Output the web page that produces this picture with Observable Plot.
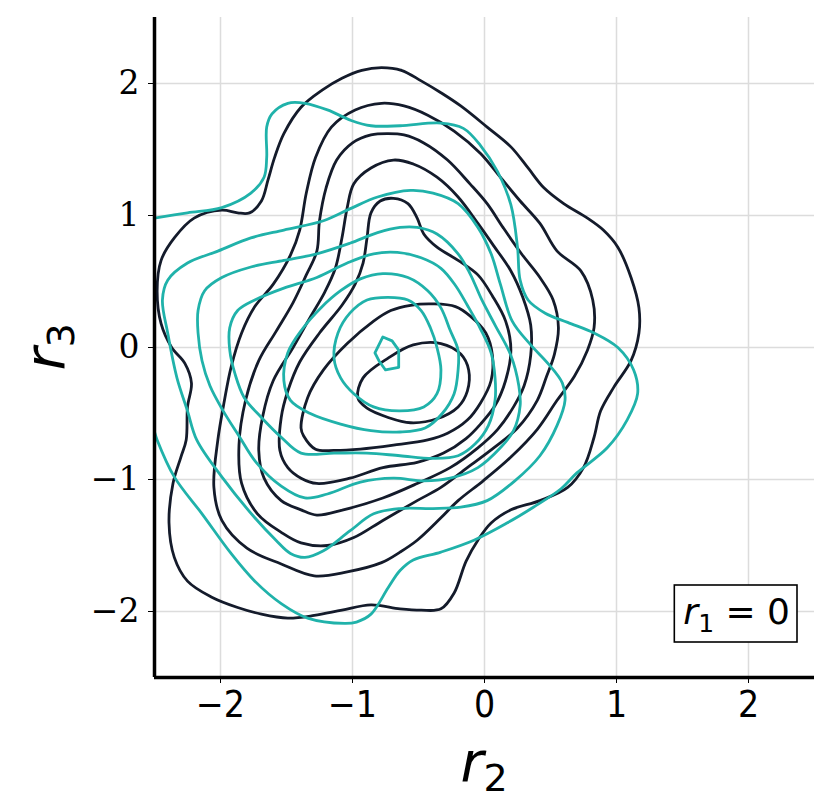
<!DOCTYPE html>
<html>
<head>
<meta charset="utf-8">
<script src="https://cdn.jsdelivr.net/npm/d3@7"></script>
<script src="https://cdn.jsdelivr.net/npm/@observablehq/plot@0.6"></script>
<style>
  body { margin: 0; background: #fff; }
  text { white-space: pre; }
  g[aria-label="x-axis tick label"] text { font-family: "Liberation Sans Narrow", "DejaVu Sans Condensed", "Liberation Sans", sans-serif !important; }
  g[aria-label="y-axis tick label"] text { font-family: "DejaVu Serif", "Liberation Serif", serif !important; }
</style>
</head>
<body>
<div id="chart"></div>
<script>
// ---- tick values ----
const xTicks = [-2, -1, 0, 1, 2];
const yTicks = [-2, -1, 0, 1, 2];
const domainLimits = [-2.5, 2.5];

// ---- dark contours (outer -> inner), [r2, r3] ----
const dark1 = [[-0.78,2.12],[-0.63,2.10],[-0.48,2.02],[-0.33,1.93],[-0.18,1.83],[0.02,1.67],[0.20,1.52],[0.33,1.36],[0.45,1.21],[0.60,1.09],[0.78,0.98],[0.90,0.89],[1.01,0.76],[1.11,0.53],[1.17,0.30],[1.17,0.11],[1.11,-0.10],[0.98,-0.30],[0.88,-0.48],[0.83,-0.68],[0.75,-0.91],[0.63,-1.06],[0.42,-1.16],[0.20,-1.23],[0.05,-1.33],[-0.05,-1.46],[-0.14,-1.62],[-0.23,-1.86],[-0.33,-1.98],[-0.48,-1.99],[-0.64,-1.98],[-0.86,-1.95],[-1.08,-1.99],[-1.29,-2.03],[-1.49,-2.05],[-1.69,-2.02],[-1.87,-1.97],[-2.07,-1.89],[-2.25,-1.77],[-2.35,-1.59],[-2.39,-1.33],[-2.36,-1.03],[-2.30,-0.83],[-2.26,-0.70],[-2.25,-0.45],[-2.22,-0.27],[-2.27,-0.12],[-2.37,0.00],[-2.45,0.18],[-2.48,0.43],[-2.45,0.66],[-2.35,0.83],[-2.20,0.98],[-1.99,1.04],[-1.87,1.02],[-1.78,1.02],[-1.69,1.11],[-1.64,1.27],[-1.59,1.44],[-1.52,1.62],[-1.39,1.82],[-1.23,1.95],[-1.08,2.04],[-0.93,2.10]];
const dark2 = [[-1.47,0.70],[-1.40,0.89],[-1.35,1.17],[-1.28,1.44],[-1.16,1.67],[-0.98,1.80],[-0.78,1.85],[-0.61,1.83],[-0.43,1.76],[-0.23,1.64],[-0.03,1.47],[0.12,1.29],[0.27,1.11],[0.42,0.94],[0.55,0.73],[0.73,0.58],[0.82,0.36],[0.83,0.15],[0.78,-0.02],[0.68,-0.22],[0.55,-0.40],[0.40,-0.62],[0.20,-0.83],[-0.01,-1.01],[-0.20,-1.16],[-0.33,-1.29],[-0.51,-1.46],[-0.64,-1.55],[-0.78,-1.63],[-1.04,-1.70],[-1.29,-1.73],[-1.54,-1.64],[-1.80,-1.52],[-1.99,-1.31],[-2.05,-1.06],[-2.02,-0.70],[-1.97,-0.40],[-1.92,-0.15],[-1.84,0.11],[-1.74,0.31],[-1.60,0.48]];
const dark3 = [[-1.27,0.73],[-1.25,0.96],[-1.20,1.21],[-1.12,1.42],[-1.00,1.55],[-0.86,1.61],[-0.73,1.62],[-0.61,1.61],[-0.46,1.55],[-0.28,1.42],[-0.11,1.24],[0.02,1.09],[0.14,0.91],[0.28,0.71],[0.42,0.53],[0.52,0.36],[0.56,0.15],[0.53,-0.05],[0.47,-0.22],[0.40,-0.40],[0.25,-0.61],[0.07,-0.76],[-0.13,-0.91],[-0.33,-1.06],[-0.51,-1.16],[-0.77,-1.31],[-0.99,-1.44],[-1.19,-1.50],[-1.39,-1.48],[-1.54,-1.40],[-1.72,-1.26],[-1.84,-1.03],[-1.86,-0.74],[-1.81,-0.40],[-1.71,-0.10],[-1.58,0.12],[-1.45,0.34],[-1.35,0.55]];
const dark4 = [[-0.69,1.42],[-0.54,1.39],[-0.36,1.29],[-0.20,1.14],[-0.05,0.94],[0.07,0.77],[0.20,0.58],[0.29,0.38],[0.35,0.17],[0.35,-0.06],[0.30,-0.29],[0.22,-0.45],[0.10,-0.62],[-0.05,-0.76],[-0.26,-0.91],[-0.51,-1.03],[-0.77,-1.14],[-1.07,-1.23],[-1.27,-1.27],[-1.39,-1.23],[-1.54,-1.16],[-1.67,-0.99],[-1.71,-0.78],[-1.68,-0.52],[-1.60,-0.25],[-1.45,0.00],[-1.32,0.23],[-1.21,0.42],[-1.13,0.60],[-1.08,0.83],[-1.04,1.06],[-0.99,1.24],[-0.86,1.36]];
const dark5 = [[-0.69,1.13],[-0.58,1.09],[-0.51,0.98],[-0.46,0.86],[-0.36,0.76],[-0.20,0.66],[-0.05,0.55],[0.06,0.39],[0.16,0.20],[0.20,-0.02],[0.16,-0.25],[0.08,-0.44],[-0.03,-0.58],[-0.14,-0.69],[-0.31,-0.80],[-0.51,-0.87],[-0.77,-0.91],[-1.02,-0.99],[-1.27,-1.03],[-1.39,-0.99],[-1.49,-0.91],[-1.55,-0.78],[-1.54,-0.53],[-1.49,-0.33],[-1.40,-0.11],[-1.25,0.11],[-1.08,0.32],[-0.98,0.48],[-0.92,0.64],[-0.89,0.83],[-0.86,1.02],[-0.79,1.11]];
const dark6 = [[-1.39,-0.61],[-1.34,-0.38],[-1.22,-0.17],[-1.04,0.03],[-0.84,0.20],[-0.71,0.28],[-0.56,0.32],[-0.39,0.33],[-0.22,0.31],[-0.11,0.24],[0.01,0.11],[0.06,-0.06],[0.05,-0.25],[-0.03,-0.42],[-0.13,-0.55],[-0.28,-0.65],[-0.43,-0.70],[-0.69,-0.74],[-0.94,-0.77],[-1.14,-0.78],[-1.28,-0.77],[-1.37,-0.67]];
const dark7 = [[-0.96,-0.38],[-0.92,-0.23],[-0.73,-0.08],[-0.54,0.02],[-0.33,0.03],[-0.18,-0.05],[-0.12,-0.17],[-0.13,-0.33],[-0.20,-0.45],[-0.36,-0.54],[-0.56,-0.57],[-0.73,-0.53],[-0.89,-0.46]];

// ---- teal contours (outer -> inner), [r2, r3] ----
const teal1 = [[-2.50,0.98],[-2.25,1.02],[-1.99,1.06],[-1.77,1.17],[-1.67,1.29],[-1.65,1.44],[-1.65,1.67],[-1.61,1.77],[-1.49,1.85],[-1.36,1.85],[-1.19,1.80],[-1.01,1.72],[-0.86,1.68],[-0.64,1.68],[-0.33,1.70],[-0.16,1.66],[-0.03,1.53],[0.10,1.33],[0.20,1.08],[0.25,0.76],[0.27,0.51],[0.33,0.36],[0.46,0.26],[0.63,0.19],[0.83,0.11],[1.01,0.00],[1.13,-0.17],[1.16,-0.35],[1.08,-0.55],[0.93,-0.76],[0.70,-0.95],[0.58,-1.07],[0.37,-1.21],[0.17,-1.33],[-0.08,-1.46],[-0.33,-1.55],[-0.54,-1.61],[-0.64,-1.69],[-0.73,-1.82],[-0.86,-2.02],[-0.97,-2.08],[-1.06,-2.09],[-1.34,-2.05],[-1.54,-1.94],[-1.74,-1.77],[-1.92,-1.56],[-2.14,-1.26],[-2.35,-0.98],[-2.48,-0.70],[-2.50,-0.64]];
const teal2 = [[-2.02,0.73],[-1.77,0.83],[-1.52,0.89],[-1.22,0.96],[-1.02,1.05],[-0.81,1.14],[-0.56,1.19],[-0.39,1.17],[-0.20,1.09],[-0.05,0.91],[0.05,0.71],[0.12,0.48],[0.21,0.20],[0.35,0.02],[0.48,-0.12],[0.59,-0.27],[0.61,-0.40],[0.55,-0.59],[0.42,-0.82],[0.23,-1.01],[0.02,-1.16],[-0.18,-1.21],[-0.39,-1.22],[-0.64,-1.22],[-0.84,-1.26],[-1.02,-1.39],[-1.22,-1.54],[-1.36,-1.59],[-1.47,-1.56],[-1.58,-1.46],[-1.74,-1.29],[-1.99,-0.98],[-2.18,-0.70],[-2.25,-0.48],[-2.33,-0.23],[-2.40,0.11],[-2.44,0.36],[-2.40,0.51],[-2.25,0.64]];
const teal3 = [[-1.77,0.61],[-1.52,0.66],[-1.27,0.71],[-1.02,0.79],[-0.81,0.87],[-0.64,0.91],[-0.51,0.91],[-0.36,0.86],[-0.20,0.71],[-0.11,0.56],[-0.02,0.36],[0.08,0.17],[0.20,-0.06],[0.26,-0.29],[0.27,-0.44],[0.22,-0.63],[0.12,-0.76],[-0.05,-0.91],[-0.26,-0.99],[-0.46,-1.01],[-0.69,-0.99],[-0.94,-1.02],[-1.19,-1.11],[-1.36,-1.14],[-1.54,-1.05],[-1.73,-0.87],[-1.86,-0.67],[-1.98,-0.48],[-2.08,-0.29],[-2.14,-0.10],[-2.17,0.11],[-2.17,0.28],[-2.12,0.43],[-1.99,0.53]];
const teal4 = [[-1.74,0.36],[-1.52,0.45],[-1.27,0.53],[-1.04,0.64],[-0.84,0.71],[-0.66,0.72],[-0.48,0.68],[-0.33,0.60],[-0.22,0.47],[-0.13,0.32],[-0.03,0.14],[0.05,-0.04],[0.08,-0.23],[0.08,-0.40],[0.03,-0.59],[-0.07,-0.73],[-0.20,-0.82],[-0.39,-0.84],[-0.64,-0.82],[-0.89,-0.80],[-1.14,-0.80],[-1.39,-0.80],[-1.54,-0.68],[-1.69,-0.53],[-1.82,-0.38],[-1.89,-0.20],[-1.93,-0.02],[-1.93,0.15],[-1.87,0.28]];
const teal5 = [[-0.77,0.56],[-0.58,0.53],[-0.43,0.43],[-0.33,0.30],[-0.26,0.13],[-0.20,-0.02],[-0.20,-0.17],[-0.23,-0.35],[-0.32,-0.50],[-0.45,-0.61],[-0.64,-0.64],[-0.86,-0.63],[-1.09,-0.58],[-1.32,-0.50],[-1.47,-0.40],[-1.52,-0.25],[-1.49,-0.04],[-1.38,0.14],[-1.24,0.30],[-1.09,0.43],[-0.94,0.52]];
const teal6 = [[-1.14,-0.08],[-1.11,0.11],[-1.02,0.26],[-0.89,0.36],[-0.73,0.38],[-0.58,0.36],[-0.48,0.28],[-0.41,0.15],[-0.36,0.00],[-0.33,-0.17],[-0.36,-0.35],[-0.46,-0.45],[-0.64,-0.48],[-0.84,-0.45],[-0.99,-0.35],[-1.09,-0.23]];
const teal7 = [[-0.83,-0.04],[-0.77,0.08],[-0.70,0.05],[-0.65,-0.02],[-0.65,-0.15],[-0.75,-0.17],[-0.80,-0.10]];

const DARK = "#141b2b";
const TEAL = "#20b2aa";
const LW = 2.8;

// table builders for the line marks
const toRows = (list, tag) => list.flatMap((c, i) => c.map(([x, y]) => ({x, y, id: tag + i})));
const darkRows = toRows([dark1, dark2, dark3, dark4, dark5, dark6, dark7], "d");
const tealRows = toRows([teal2, teal3, teal4, teal5, teal6], "t");
const tealOpen = toRows([teal1], "o");
const tealInner = toRows([teal7], "i");

const fmt = d => d < 0 ? "\u2212" + Math.abs(d) : String(d);

const chart = Plot.plot({
  width: 831,
  height: 812,
  marginLeft: 154,
  marginRight: 17,
  marginTop: 17,
  marginBottom: 135,
  x: {domain: domainLimits},
  y: {domain: domainLimits},
  style: {background: "#fff", overflow: "visible"},
  marks: [
    Plot.gridX(xTicks, {stroke: "#dcdcdc", strokeOpacity: 1, strokeWidth: 1.5}),
    Plot.gridY(yTicks, {stroke: "#dcdcdc", strokeOpacity: 1, strokeWidth: 1.5}),
    Plot.line(darkRows, {x: "x", y: "y", z: "id", stroke: DARK, strokeWidth: LW, curve: "catmull-rom-closed", clip: true}),
    Plot.line(tealRows, {x: "x", y: "y", z: "id", stroke: TEAL, strokeWidth: LW, curve: "catmull-rom-closed", clip: true}),
    Plot.line(tealOpen, {x: "x", y: "y", z: "id", stroke: TEAL, strokeWidth: LW, curve: "catmull-rom", clip: true}),
    Plot.line(tealInner, {x: "x", y: "y", z: "id", stroke: TEAL, strokeWidth: LW, curve: "linear-closed", clip: true}),
    Plot.axisX(xTicks, {tickSize: 6, tickPadding: 7, fontSize: 37, tickFormat: fmt, label: null}),
    Plot.axisY(yTicks, {tickSize: 6, tickPadding: 9, fontSize: 33, tickFormat: fmt, label: null}),
    Plot.ruleX([domainLimits[0]], {stroke: "#000", strokeWidth: 3.5}),
    Plot.ruleY([domainLimits[0]], {stroke: "#000", strokeWidth: 3.5})
  ]
});

document.getElementById("chart").append(chart);

const sx = chart.scale("x"), sy = chart.scale("y");
const svg = d3.select(chart);

// force tick label fonts
svg.selectAll('g[aria-label="x-axis tick label"]')
  .attr("font-family", "Liberation Sans Narrow, DejaVu Sans Condensed, Liberation Sans, sans-serif");
svg.selectAll('g[aria-label="y-axis tick label"]')
  .attr("font-family", "DejaVu Serif, Liberation Serif, serif");

// x axis label r_2
const xl = svg.append("text")
  .attr("x", sx.apply(0))
  .attr("y", sy.apply(domainLimits[0]) + 104)
  .attr("text-anchor", "middle")
  .attr("font-family", "DejaVu Sans, sans-serif")
  .attr("fill", "#000");
xl.append("tspan").attr("font-style", "italic").attr("font-size", 56).text("r");
xl.append("tspan").attr("font-size", 38).attr("dy", 10).text("2");

// y axis label r_3
const yl = svg.append("text")
  .attr("transform", `translate(${sx.apply(domainLimits[0]) - 90},${sy.apply(0)}) rotate(-90)`)
  .attr("text-anchor", "middle")
  .attr("font-family", "DejaVu Sans, sans-serif")
  .attr("fill", "#000");
yl.append("tspan").attr("font-style", "italic").attr("font-size", 56).text("r");
yl.append("tspan").attr("font-size", 38).attr("dy", 10).text("3");

// annotation box r_1 = 0
const right = sx.apply(domainLimits[1]) - 17;
const bottom = sy.apply(domainLimits[0]) - 35;
const lg = svg.append("g");
const rect = lg.append("rect");
const t = lg.append("text")
  .attr("x", right - 7)
  .attr("y", bottom - 18)
  .attr("text-anchor", "end")
  .attr("font-family", "DejaVu Sans, sans-serif")
  .attr("font-size", 36)
  .attr("fill", "#000");
t.append("tspan").attr("font-style", "italic").text("r");
t.append("tspan").attr("font-size", 25).attr("dy", 8).text("1");
t.append("tspan").attr("dy", -8).text(" = 0");
const bb = t.node().getBBox();
rect.attr("x", bb.x - 9).attr("y", bottom - 57)
  .attr("width", right - (bb.x - 9)).attr("height", 57)
  .attr("fill", "#fff").attr("stroke", "#000").attr("stroke-width", 1.6);
</script>
</body>
</html>
